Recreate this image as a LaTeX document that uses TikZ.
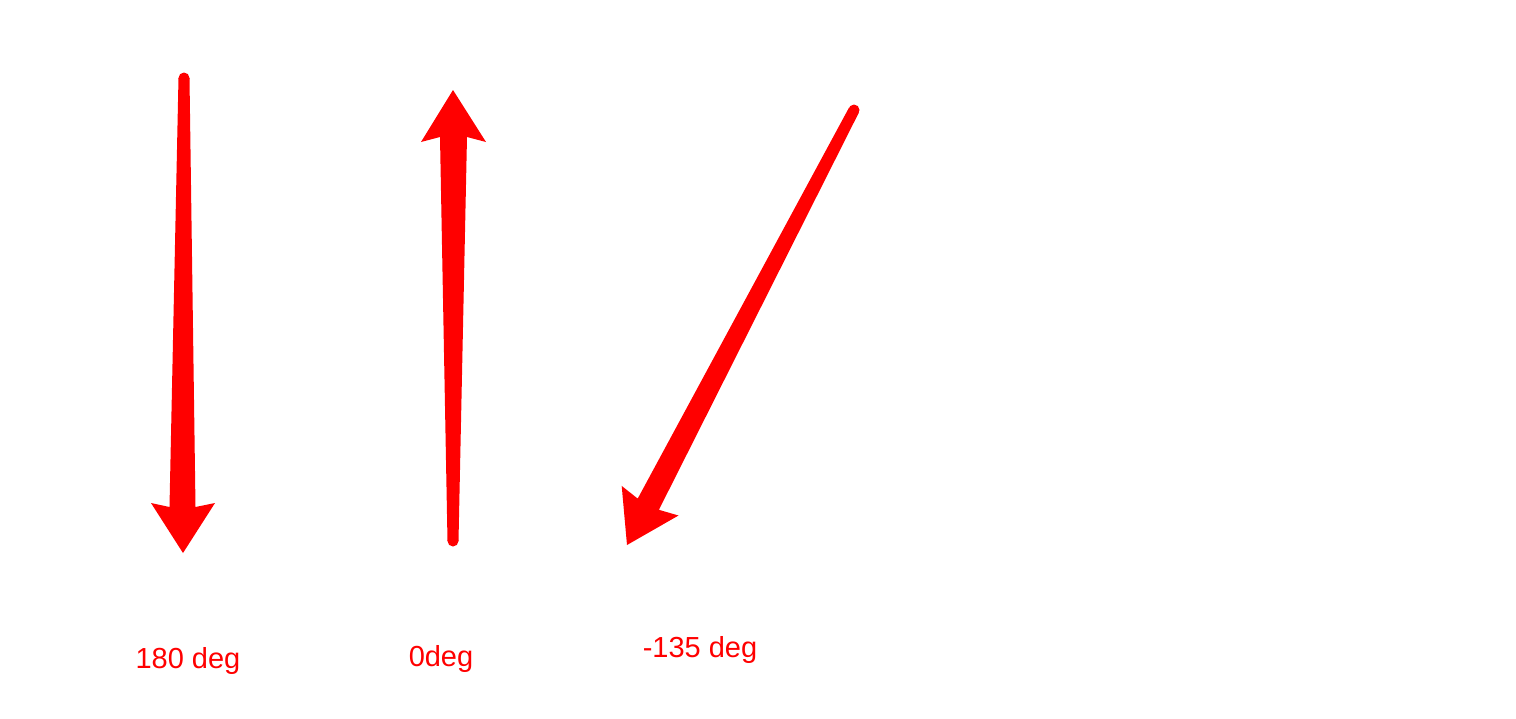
\documentclass[tikz,border=0pt]{standalone}
\usepackage{fontspec}
\setmainfont{Liberation Sans}
\begin{document}
\begin{tikzpicture}[x=0.02cm,y=-0.02cm,
  arrowfill/.style={fill=red,draw=none},
  lbl/.style={text=red,font=\fontsize{16.5}{19}\selectfont,inner sep=0pt}]
\useasboundingbox (0,0) rectangle (1516,718);
% arrow 1 (180 deg)
\fill[arrowfill] (178.5,78) -- (169.5,507) -- (151,503) -- (183,553) -- (215,503) -- (195.5,507) -- (189.5,78) -- cycle;
\fill[arrowfill] (184,78) circle (5.5);
% arrow 2 (0 deg)
\fill[arrowfill] (447.5,541) -- (440,137) -- (421,142) -- (453,90) -- (486,142) -- (467,137) -- (458.5,541) -- cycle;
\fill[arrowfill] (453,541) circle (5.5);
% arrow 3 (-135 deg)
\fill[arrowfill] (849.1,107.5) -- (637.7,498.6) -- (621.7,485.9) -- (627,545) -- (678.5,515.5) -- (658.9,509.8) -- (858.9,112.5) -- cycle;
\fill[arrowfill] (854,110) circle (5.5);
% labels
\node[lbl] (l1) at (188,661) {180 deg};
\node[lbl] (l2) at (441,659) {0deg};
\node[lbl] (l3) at (700,650) {-135 deg};
\end{tikzpicture}
\end{document}
